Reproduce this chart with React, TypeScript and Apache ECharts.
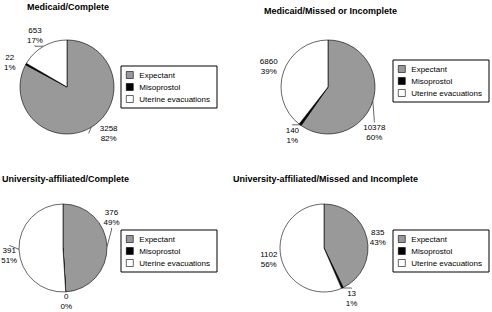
import React, { useEffect, useRef } from "react";
import * as echarts from "echarts";

const categories = ["Expectant", "Misoprostol", "Uterine evacuations"];
const titles = [
  "Medicaid/Complete",
  "Medicaid/Missed or Incomplete",
  "University-affiliated/Complete",
  "University-affiliated/Missed and Incomplete",
];
const medicaidComplete = [3258, 22, 653];
const medicaidMissed = [10378, 140, 6860];
const universityComplete = [376, 0, 391];
const universityMissed = [835, 13, 1102];
const medicaidCompletePct = [82, 1, 17];
const medicaidMissedPct = [60, 1, 39];
const universityCompletePct = [49, 0, 51];
const universityMissedPct = [43, 1, 56];

const seriesValues = [medicaidComplete, medicaidMissed, universityComplete, universityMissed];
const seriesPcts = [medicaidCompletePct, medicaidMissedPct, universityCompletePct, universityMissedPct];
const colors = ["#999999", "#000000", "#ffffff"];

// layout (style, not data)
const pieCenters: [number, number][] = [[67, 87], [328, 87], [63, 248], [324, 248]];
const pieRadii = [47, 47, 44, 44];
const titlePos = [[27, 2], [264, 6], [2, 174], [233, 174]];
const legendPos = [[121, 66], [393, 60], [121, 230], [393, 230]];
// label placement tweaks per panel/slice: [angle shift (deg), extra gap (px)]
const labelTweaks = [
  [[-11, 1], [-6, 5], [-2, 0]],
  [[27, 2], [0, 0], [0, 3]],
  [[-30, 0], [0, -2], [-6, 0]],
  [[2, 0], [-4, 1], [0, 1]],
];

const FONT = "Liberation Sans, Arial, Helvetica, sans-serif";
let measureCtx: CanvasRenderingContext2D | null = null;
function textWidth(text: string): number {
  if (!measureCtx) measureCtx = document.createElement("canvas").getContext("2d");
  if (!measureCtx) return text.length * 4.5;
  measureCtx.font = `8px ${FONT}`;
  return Math.max(...text.split("\n").map((l) => measureCtx!.measureText(l).width));
}

export default function App() {
  const ref = useRef<HTMLDivElement>(null);
  useEffect(() => {
    if (!ref.current) return;
    const chart = echarts.init(ref.current, null, { renderer: "svg" });
    chart.setOption({
      animation: false,
      backgroundColor: "#ffffff",
      title: titles.map((t, i) => ({
        text: t,
        left: titlePos[i][0],
        top: titlePos[i][1],
        padding: 0,
        textStyle: { fontFamily: FONT, fontSize: 9, fontWeight: "bold", color: "#000" },
      })),
      legend: legendPos.map((p, i) => ({
        seriesIndex: i,
        data: categories,
        orient: "vertical",
        left: p[0],
        top: p[1],
        padding: [4, 7, 4, 5],
        itemGap: 2,
        itemWidth: 9,
        itemHeight: 7,
        icon: "path://M0,0H6V6H0Z",
        borderColor: "#000",
        borderWidth: 1,
        selectedMode: false,
        textStyle: { fontFamily: FONT, fontSize: 8, color: "#000", lineHeight: 10 },
        itemStyle: { borderColor: "#000", borderWidth: 0.6 },
      })),
      series: seriesValues.map((vals, i) => ({
        type: "pie",
        center: pieCenters[i],
        radius: pieRadii[i],
        startAngle: 90,
        clockwise: true,
        silent: true,
        avoidLabelOverlap: false,
        minShowLabelAngle: 0,
        itemStyle: { borderColor: "#000", borderWidth: 0.6 },
        emphasis: { disabled: true },
        label: {
          show: true,
          position: "outside",
          alignTo: "none",
          width: 40,
          align: "center",
          fontFamily: FONT,
          fontSize: 8,
          lineHeight: 10,
          color: "#000",
          formatter: (p: any) => `${p.value}\n${seriesPcts[i][p.dataIndex]}%`,
        },
        labelLine: { show: true, length: 3, length2: 2, lineStyle: { color: "#000", width: 0.6 } },
        labelLayout: (params: any) => {
          const si = params.seriesIndex;
          const di = params.dataIndex;
          const [cx, cy] = pieCenters[si];
          const r = pieRadii[si];
          const pts = params.labelLinePoints;
          if (!pts || !pts[0]) return {};
          const tw = labelTweaks[si][di];
          const ang = Math.atan2(pts[0][1] - cy, pts[0][0] - cx) + (tw[0] * Math.PI) / 180;
          const w = textWidth(params.text || "");
          const h = 20;
          const c = Math.cos(ang);
          const s = Math.sin(ang);
          const d = r + 1 + tw[1] + (Math.abs(c) * w) / 2 + (Math.abs(s) * h) / 2;
          return { x: cx + d * c, y: cy + d * s, align: "center", verticalAlign: "middle" };
        },
        data: categories.map((c, k) => ({ name: c, value: vals[k], itemStyle: { color: colors[k] } })),
      })),
    });
    return () => chart.dispose();
  }, []);
  return (
    <div
      ref={ref}
      style={{ position: "fixed", left: 0, top: 0, width: 492, height: 312, background: "#fff" }}
    />
  );
}
